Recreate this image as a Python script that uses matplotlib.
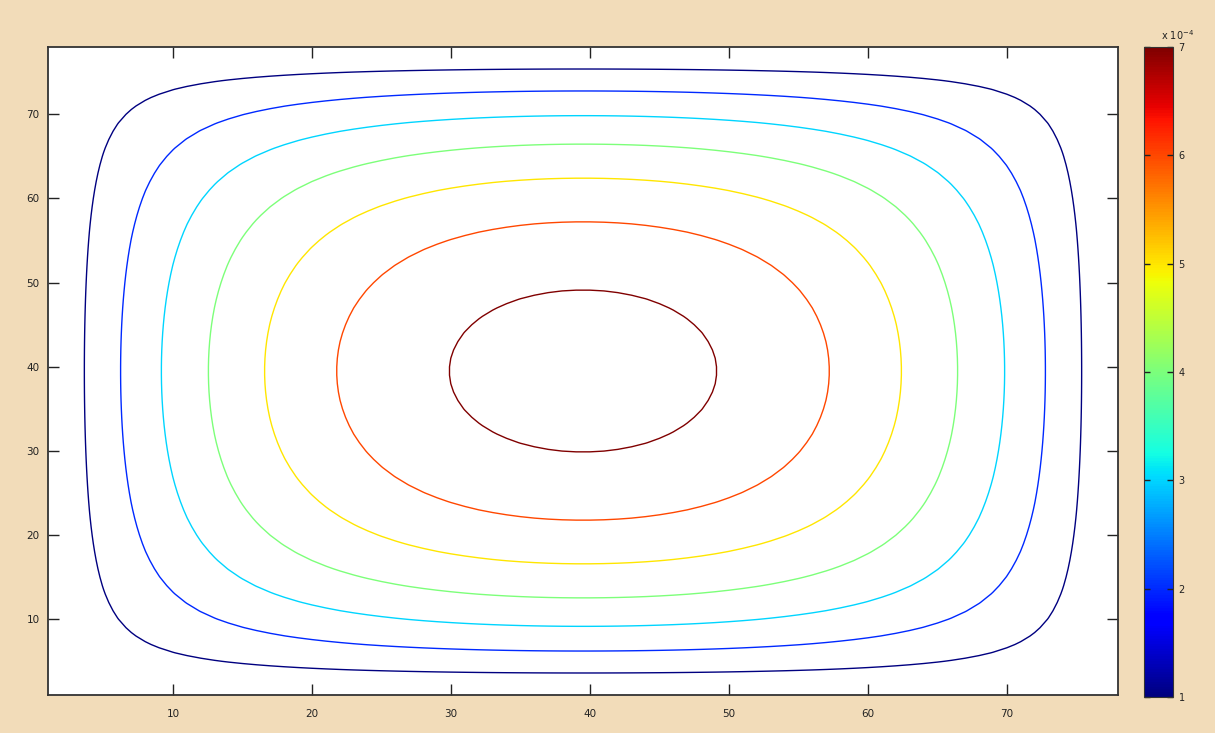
import numpy as np
import matplotlib
matplotlib.use("Agg")
import matplotlib.pyplot as plt
import matplotlib.colors as mcolors
import matplotlib.cm as cm

# grid size and values
grid_n = 78                      # x and y go from 1 to 78
edge_zero = 1.25                 # where the field drops to zero (both ends, symmetric)
peak_value = 7.4e-4              # value at the centre of the square
contour_levels = [1e-4, 2e-4, 3e-4, 4e-4, 5e-4, 6e-4, 7e-4]
x_ticks = [10, 20, 30, 40, 50, 60, 70]
y_ticks = [10, 20, 30, 40, 50, 60, 70]
cbar_ticks = [1e-4, 2e-4, 3e-4, 4e-4, 5e-4, 6e-4, 7e-4]
cbar_labels = ["1", "2", "3", "4", "5", "6", "7"]

bg = "#f2dcb9"

# Poisson solution (-lap u = const, u = 0 on the edges) on the square grid
xs = np.arange(1, grid_n + 1)
span = (grid_n + 1) - 2 * edge_zero
s = (xs - edge_zero) / span
S, T = np.meshgrid(s, s)
Z = np.zeros_like(S)
for m in range(1, 80, 2):
    for n in range(1, 80, 2):
        Z += np.sin(m * np.pi * S) * np.sin(n * np.pi * T) / (m * n * (m**2 + n**2))
Z = Z / Z.max() * peak_value

fig = plt.figure(figsize=(12.15, 7.33), dpi=100, facecolor=bg)
ax = fig.add_axes([48 / 1215, 38 / 733, 1070 / 1215, 648 / 733])
ax.set_facecolor("white")

norm = mcolors.Normalize(vmin=contour_levels[0], vmax=contour_levels[-1])
ax.contour(xs, xs, Z, levels=contour_levels, cmap="jet", norm=norm, linewidths=1.0)

ax.set_xlim(1, grid_n)
ax.set_ylim(1, grid_n)
ax.set_xticks(x_ticks)
ax.set_yticks(y_ticks)
ax.tick_params(direction="in", length=8, width=1, top=True, right=True,
               labelsize=7.5, colors="#222222")
ax.tick_params(axis="x", pad=10)
ax.tick_params(axis="y", pad=6)
for sp in ax.spines.values():
    sp.set_linewidth(1.3)
    sp.set_color("#333333")

# colour bar
cax = fig.add_axes([1144 / 1215, 36 / 733, 29 / 1215, 650 / 733])
sm = cm.ScalarMappable(norm=norm, cmap="jet")
cb = fig.colorbar(sm, cax=cax)
cb.set_ticks(cbar_ticks)
cb.set_ticklabels(cbar_labels)
cb.outline.set_linewidth(0.8)
cb.outline.set_edgecolor("#333333")
cax.tick_params(direction="in", length=4, width=1, left=True, right=True,
                labelsize=7, colors="#222222", pad=4)
fig.text(1161 / 1215, 1 - 40 / 733, r"x 10$^{-4}$", fontsize=7, color="#222222")

fig.savefig("out.png", dpi=100, facecolor=bg)
